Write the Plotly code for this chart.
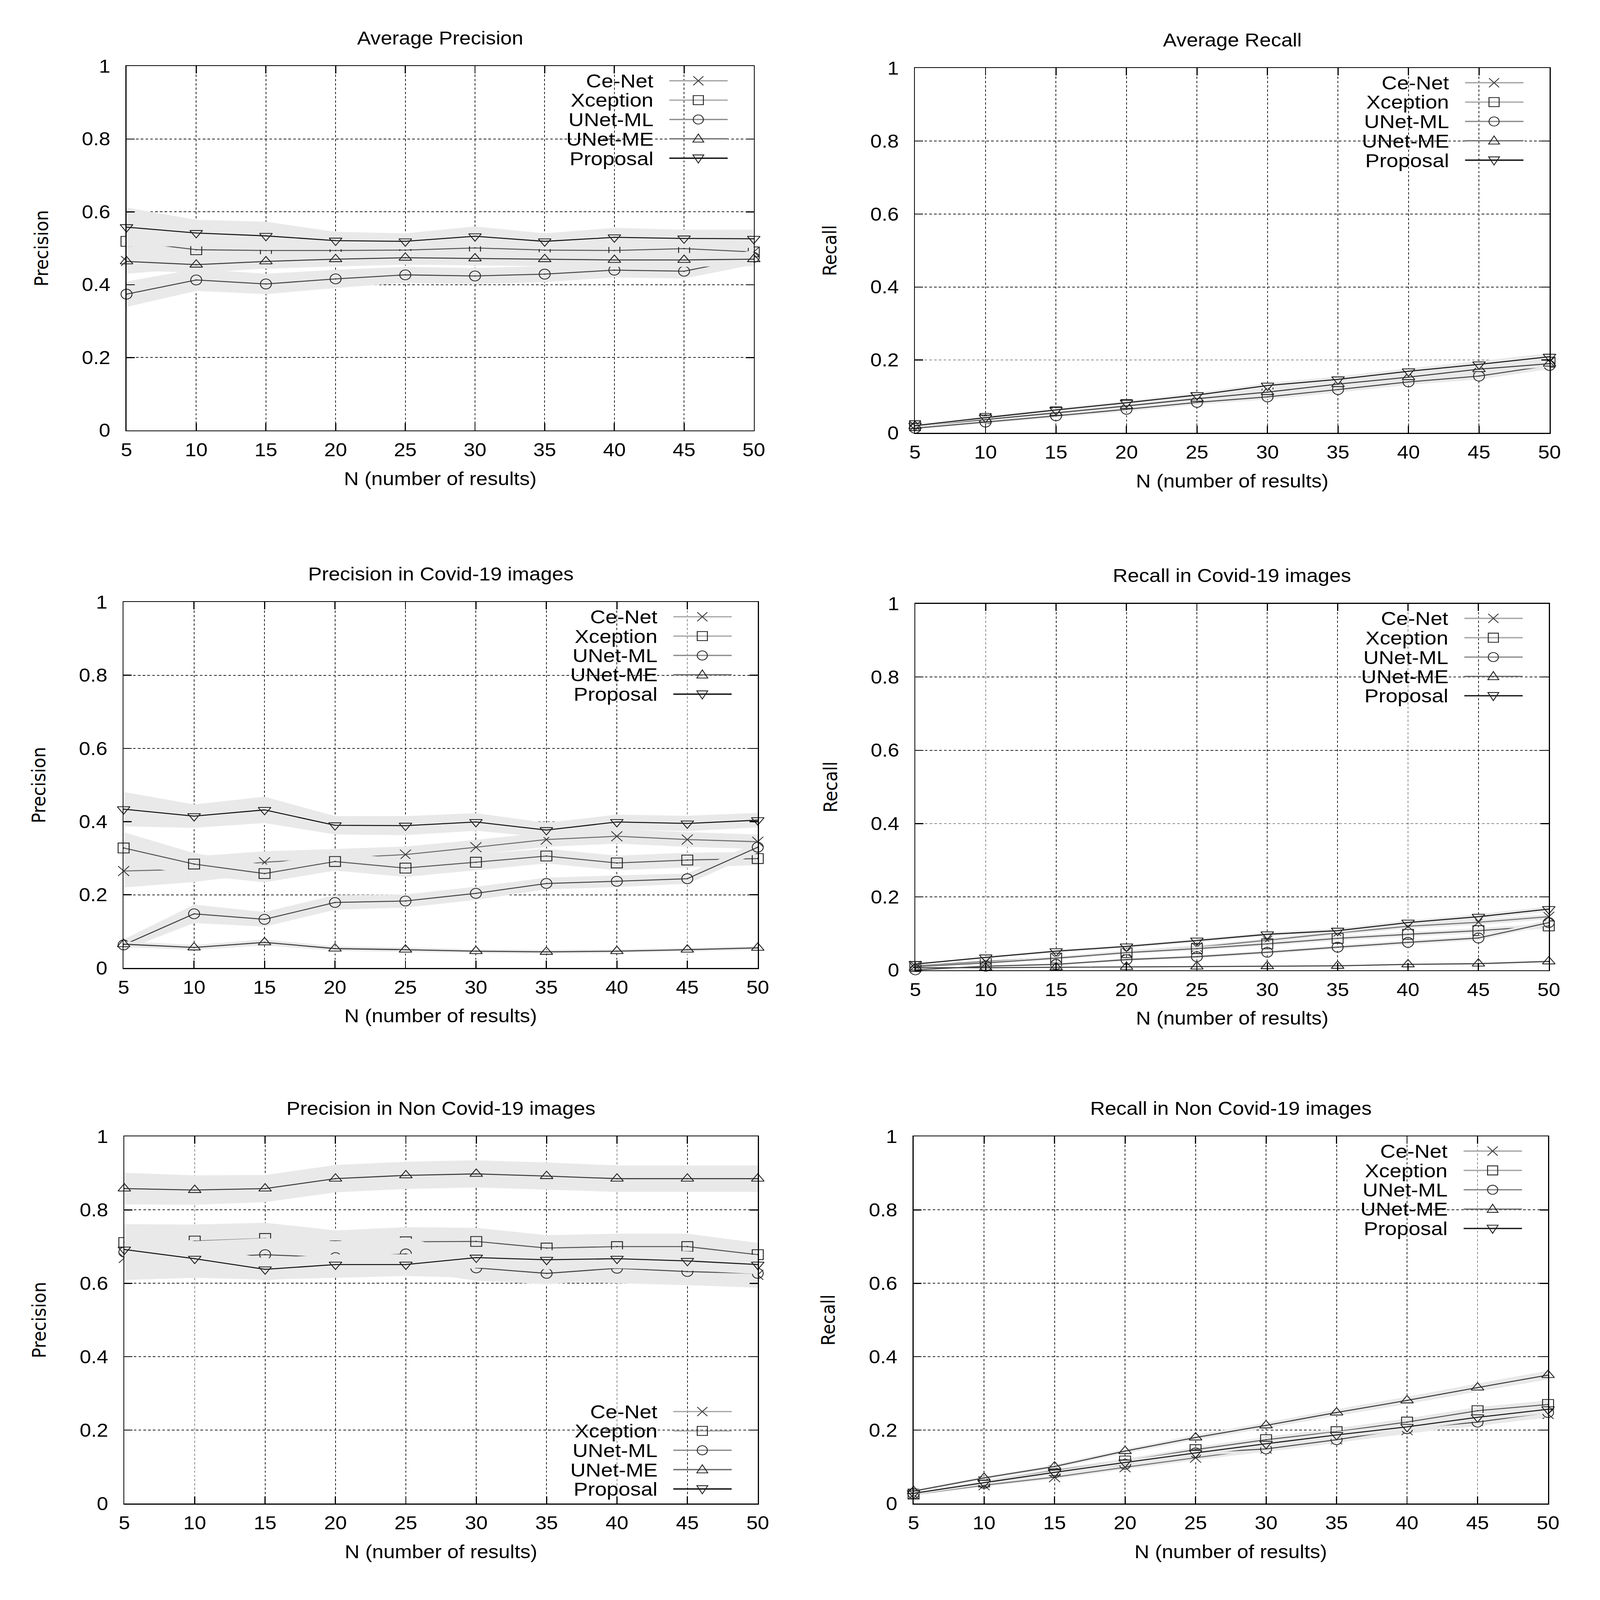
import plotly.graph_objects as go

W, H = 4368, 4856

# ---------------- data ----------------
N_RESULTS = [5, 10, 15, 20, 25, 30, 35, 40, 45, 50]
SERIES = ["Ce-Net", "Xception", "UNet-ML", "UNet-ME", "Proposal"]
Y_TICKS = [0, 0.2, 0.4, 0.6, 0.8, 1]
Y_TICK_TEXT = ["0", "0.2", "0.4", "0.6", "0.8", "1"]

# Average Precision
AP_CENET = [0.465, 0.475, 0.480, 0.485, 0.487, 0.490, 0.490, 0.490, 0.490, 0.490]
AP_XCEPTION = [0.519, 0.496, 0.494, 0.494, 0.495, 0.501, 0.495, 0.494, 0.499, 0.490]
AP_UNETML = [0.374, 0.413, 0.402, 0.416, 0.427, 0.424, 0.429, 0.440, 0.437, 0.475]
AP_UNETME = [0.464, 0.455, 0.464, 0.470, 0.474, 0.472, 0.470, 0.468, 0.468, 0.470]
AP_PROPOSAL = [0.558, 0.542, 0.534, 0.521, 0.519, 0.533, 0.519, 0.530, 0.527, 0.526]
AP_CENET_ERR = [0.035, 0.030, 0.028, 0.025, 0.025, 0.025, 0.025, 0.025, 0.025, 0.025]
AP_XCEPTION_ERR = [0.050, 0.040, 0.030, 0.025, 0.025, 0.025, 0.025, 0.025, 0.025, 0.025]
AP_UNETML_ERR = [0.035, 0.030, 0.028, 0.025, 0.022, 0.022, 0.022, 0.020, 0.020, 0.020]
AP_UNETME_ERR = [0.025, 0.022, 0.020, 0.020, 0.019, 0.019, 0.019, 0.019, 0.019, 0.019]
AP_PROPOSAL_ERR = [0.054, 0.036, 0.039, 0.024, 0.022, 0.027, 0.022, 0.026, 0.024, 0.025]

# Average Recall
AR_CENET = [0.019, 0.039, 0.058, 0.077, 0.096, 0.117, 0.136, 0.156, 0.176, 0.195]
AR_XCEPTION = [0.020, 0.040, 0.058, 0.078, 0.097, 0.116, 0.135, 0.153, 0.172, 0.194]
AR_UNETML = [0.013, 0.030, 0.047, 0.065, 0.084, 0.099, 0.119, 0.140, 0.156, 0.185]
AR_UNETME = [0.019, 0.037, 0.055, 0.074, 0.094, 0.112, 0.134, 0.153, 0.175, 0.190]
AR_PROPOSAL = [0.020, 0.042, 0.063, 0.083, 0.104, 0.130, 0.147, 0.169, 0.188, 0.209]
AR_CENET_ERR = [0.003, 0.004, 0.005, 0.005, 0.006, 0.007, 0.007, 0.008, 0.008, 0.009]
AR_XCEPTION_ERR = [0.003, 0.004, 0.005, 0.005, 0.006, 0.007, 0.007, 0.008, 0.008, 0.009]
AR_UNETML_ERR = [0.003, 0.004, 0.005, 0.006, 0.006, 0.007, 0.008, 0.008, 0.009, 0.010]
AR_UNETME_ERR = [0.003, 0.004, 0.004, 0.005, 0.006, 0.006, 0.007, 0.008, 0.008, 0.009]
AR_PROPOSAL_ERR = [0.003, 0.004, 0.005, 0.005, 0.006, 0.007, 0.008, 0.008, 0.009, 0.010]

# Precision in Covid-19 images
PC_CENET = [0.265, 0.270, 0.289, 0.300, 0.310, 0.330, 0.351, 0.360, 0.351, 0.345]
PC_XCEPTION = [0.328, 0.284, 0.258, 0.291, 0.273, 0.289, 0.306, 0.287, 0.295, 0.299]
PC_UNETML = [0.063, 0.148, 0.133, 0.179, 0.183, 0.204, 0.231, 0.237, 0.244, 0.330]
PC_UNETME = [0.065, 0.056, 0.070, 0.053, 0.050, 0.046, 0.044, 0.046, 0.050, 0.055]
PC_PROPOSAL = [0.434, 0.415, 0.432, 0.390, 0.389, 0.399, 0.377, 0.399, 0.395, 0.404]
PC_CENET_ERR = [0.045, 0.035, 0.030, 0.025, 0.022, 0.020, 0.020, 0.020, 0.020, 0.020]
PC_XCEPTION_ERR = [0.043, 0.030, 0.024, 0.025, 0.024, 0.022, 0.020, 0.020, 0.020, 0.018]
PC_UNETML_ERR = [0.015, 0.025, 0.020, 0.020, 0.018, 0.018, 0.016, 0.016, 0.014, 0.015]
PC_UNETME_ERR = [0.008, 0.007, 0.008, 0.006, 0.006, 0.005, 0.005, 0.005, 0.005, 0.005]
PC_PROPOSAL_ERR = [0.047, 0.032, 0.036, 0.025, 0.026, 0.024, 0.020, 0.020, 0.021, 0.020]

# Recall in Covid-19 images
RC_CENET = [0.012, 0.024, 0.034, 0.050, 0.063, 0.082, 0.102, 0.120, 0.131, 0.146]
RC_XCEPTION = [0.010, 0.020, 0.033, 0.048, 0.059, 0.072, 0.087, 0.098, 0.108, 0.121]
RC_UNETML = [0.001, 0.011, 0.016, 0.029, 0.037, 0.049, 0.063, 0.076, 0.088, 0.130]
RC_UNETME = [0.007, 0.007, 0.008, 0.009, 0.010, 0.011, 0.012, 0.016, 0.018, 0.024]
RC_PROPOSAL = [0.017, 0.035, 0.052, 0.065, 0.081, 0.098, 0.108, 0.130, 0.146, 0.167]
RC_CENET_ERR = [0.002, 0.003, 0.004, 0.004, 0.005, 0.005, 0.006, 0.006, 0.007, 0.007]
RC_XCEPTION_ERR = [0.002, 0.003, 0.004, 0.004, 0.005, 0.005, 0.006, 0.006, 0.007, 0.007]
RC_UNETML_ERR = [0.002, 0.003, 0.003, 0.004, 0.004, 0.005, 0.005, 0.006, 0.006, 0.007]
RC_UNETME_ERR = [0.001, 0.001, 0.002, 0.002, 0.002, 0.002, 0.002, 0.002, 0.003, 0.003]
RC_PROPOSAL_ERR = [0.002, 0.003, 0.004, 0.004, 0.005, 0.005, 0.006, 0.006, 0.007, 0.007]

# Precision in Non Covid-19 images
PN_CENET = [0.669, 0.665, 0.655, 0.655, 0.660, 0.655, 0.645, 0.640, 0.635, 0.623]
PN_XCEPTION = [0.711, 0.715, 0.722, 0.702, 0.713, 0.714, 0.696, 0.700, 0.700, 0.678]
PN_UNETML = [0.685, 0.670, 0.678, 0.670, 0.680, 0.642, 0.627, 0.641, 0.632, 0.627]
PN_UNETME = [0.858, 0.854, 0.858, 0.885, 0.894, 0.898, 0.892, 0.885, 0.885, 0.885]
PN_PROPOSAL = [0.692, 0.667, 0.638, 0.651, 0.651, 0.670, 0.664, 0.667, 0.661, 0.651]
PN_CENET_ERR = [0.060, 0.050, 0.045, 0.040, 0.040, 0.040, 0.040, 0.040, 0.040, 0.035]
PN_XCEPTION_ERR = [0.050, 0.045, 0.043, 0.042, 0.040, 0.037, 0.035, 0.035, 0.035, 0.032]
PN_UNETML_ERR = [0.060, 0.045, 0.045, 0.045, 0.045, 0.035, 0.030, 0.030, 0.030, 0.030]
PN_UNETME_ERR = [0.043, 0.040, 0.037, 0.037, 0.037, 0.037, 0.037, 0.036, 0.036, 0.036]
PN_PROPOSAL_ERR = [0.040, 0.035, 0.030, 0.028, 0.028, 0.028, 0.026, 0.026, 0.026, 0.026]

# Recall in Non Covid-19 images
RN_CENET = [0.025, 0.050, 0.072, 0.099, 0.125, 0.150, 0.175, 0.200, 0.225, 0.244]
RN_XCEPTION = [0.026, 0.059, 0.090, 0.116, 0.147, 0.174, 0.196, 0.222, 0.253, 0.270]
RN_UNETML = [0.027, 0.055, 0.084, 0.107, 0.138, 0.149, 0.174, 0.204, 0.222, 0.248]
RN_UNETME = [0.034, 0.070, 0.101, 0.143, 0.180, 0.213, 0.248, 0.281, 0.316, 0.350]
RN_PROPOSAL = [0.028, 0.057, 0.085, 0.112, 0.138, 0.163, 0.187, 0.209, 0.235, 0.257]
RN_CENET_ERR = [0.003, 0.004, 0.005, 0.006, 0.007, 0.008, 0.009, 0.010, 0.010, 0.011]
RN_XCEPTION_ERR = [0.003, 0.004, 0.005, 0.006, 0.007, 0.008, 0.009, 0.010, 0.010, 0.011]
RN_UNETML_ERR = [0.003, 0.004, 0.005, 0.006, 0.007, 0.008, 0.009, 0.010, 0.011, 0.012]
RN_UNETME_ERR = [0.003, 0.004, 0.005, 0.006, 0.007, 0.008, 0.009, 0.010, 0.011, 0.012]
RN_PROPOSAL_ERR = [0.003, 0.004, 0.005, 0.006, 0.007, 0.008, 0.009, 0.010, 0.010, 0.011]

# ---------------- styling ----------------
LINE_COLORS = ["#6a6a6a", "#555555", "#454545", "#383838", "#111111"]
LEGEND_COLORS = ["#a8a8a8", "#a8a8a8", "#8a8a8a", "#6e6e6e", "#111111"]
MARK_COLORS = ["#3a3a3a", "#222222", "#2a2a2a", "#222222", "#222222"]
SYMBOLS = ["x-thin-open", "square-open-dot", "circle-open-dot",
           "triangle-up-open-dot", "triangle-down-open-dot"]
BAND = "rgb(233,233,233)"
FONT = "Liberation Sans, Arial, sans-serif"
YFONT = "DejaVu Sans, Verdana, sans-serif"

PANELS = [
    dict(title="Average Precision", ytitle="Precision", box=(333, 2064, 172, 1292), legend="top",
         vals=[AP_CENET, AP_XCEPTION, AP_UNETML, AP_UNETME, AP_PROPOSAL],
         errs=[AP_CENET_ERR, AP_XCEPTION_ERR, AP_UNETML_ERR, AP_UNETME_ERR, AP_PROPOSAL_ERR]),
    dict(title="Average Recall", ytitle="Recall", box=(2509, 4260, 178, 1300), legend="top",
         vals=[AR_CENET, AR_XCEPTION, AR_UNETML, AR_UNETME, AR_PROPOSAL],
         errs=[AR_CENET_ERR, AR_XCEPTION_ERR, AR_UNETML_ERR, AR_UNETME_ERR, AR_PROPOSAL_ERR]),
    dict(title="Precision in Covid-19 images", ytitle="Precision", box=(325, 2075, 1820, 2945), legend="top",
         vals=[PC_CENET, PC_XCEPTION, PC_UNETML, PC_UNETME, PC_PROPOSAL],
         errs=[PC_CENET_ERR, PC_XCEPTION_ERR, PC_UNETML_ERR, PC_UNETME_ERR, PC_PROPOSAL_ERR]),
    dict(title="Recall in Covid-19 images", ytitle="Recall", box=(2510, 4258, 1825, 2952), legend="top",
         vals=[RC_CENET, RC_XCEPTION, RC_UNETML, RC_UNETME, RC_PROPOSAL],
         errs=[RC_CENET_ERR, RC_XCEPTION_ERR, RC_UNETML_ERR, RC_UNETME_ERR, RC_PROPOSAL_ERR]),
    dict(title="Precision in Non Covid-19 images", ytitle="Precision", box=(327, 2075, 3463, 4592), legend="bottom",
         vals=[PN_CENET, PN_XCEPTION, PN_UNETML, PN_UNETME, PN_PROPOSAL],
         errs=[PN_CENET_ERR, PN_XCEPTION_ERR, PN_UNETML_ERR, PN_UNETME_ERR, PN_PROPOSAL_ERR]),
    dict(title="Recall in Non Covid-19 images", ytitle="Recall", box=(2505, 4256, 3463, 4592), legend="top",
         vals=[RN_CENET, RN_XCEPTION, RN_UNETML, RN_UNETME, RN_PROPOSAL],
         errs=[RN_CENET_ERR, RN_XCEPTION_ERR, RN_UNETML_ERR, RN_UNETME_ERR, RN_PROPOSAL_ERR]),
]


def px(x):
    return x / W


def py(y):
    return 1 - y / H


fig = go.Figure()
layout = dict(width=W, height=H, margin=dict(l=0, r=0, t=0, b=0), autosize=False,
              paper_bgcolor="white", plot_bgcolor="white", showlegend=False)
annotations = []
shapes = []

for i, p in enumerate(PANELS, start=1):
    xa = "x" if i == 1 else f"x{i}"
    ya = "y" if i == 1 else f"y{i}"
    left, right, top, bottom = p["box"]
    axis_common = dict(showline=True, linecolor="black", linewidth=3, mirror="ticks",
                       ticks="inside", ticklen=22, tickwidth=3, tickcolor="black",
                       showgrid=True, gridcolor="#222222", gridwidth=2, griddash="7px,6px",
                       zeroline=False, tickfont=dict(family=FONT, size=56, color="black"))
    layout["xaxis" if i == 1 else f"xaxis{i}"] = dict(
        axis_common, domain=[px(left), px(right)], range=[5, 50], tickvals=N_RESULTS,
        anchor=ya, ticklabelstandoff=8)
    layout["yaxis" if i == 1 else f"yaxis{i}"] = dict(
        axis_common, domain=[py(bottom), py(top)], range=[0, 1], tickvals=Y_TICKS,
        ticktext=Y_TICK_TEXT, anchor=xa, ticklabelstandoff=30)

    for k, name in enumerate(SERIES):
        v = p["vals"][k]
        e = p["errs"][k]
        upper = [a + b for a, b in zip(v, e)]
        lower = [a - b for a, b in zip(v, e)]
        fig.add_trace(go.Scatter(
            x=N_RESULTS + N_RESULTS[::-1], y=upper + lower[::-1], fill="toself",
            fillcolor=BAND, line=dict(width=0), mode="lines", hoverinfo="skip",
            xaxis=xa, yaxis=ya, showlegend=False))
        fig.add_trace(go.Scatter(
            x=N_RESULTS, y=v, mode="lines+markers", name=name, xaxis=xa, yaxis=ya,
            line=dict(color=LINE_COLORS[k], width=3),
            marker=dict(symbol=SYMBOLS[k], size=30, color=MARK_COLORS[k],
                        line=dict(width=2.5, color=MARK_COLORS[k])),
            cliponaxis=False, showlegend=False))

    cx = (left + right) / 2
    annotations.append(dict(text=p["title"], x=px(cx), y=py(top - 86), xref="paper", yref="paper",
                            showarrow=False, xanchor="center", yanchor="middle",
                            font=dict(family=FONT, size=56, color="black")))
    annotations.append(dict(text="N (number of results)", x=px(cx), y=py(bottom + 148),
                            xref="paper", yref="paper", showarrow=False,
                            xanchor="center", yanchor="middle",
                            font=dict(family=FONT, size=56, color="black")))
    annotations.append(dict(text=p["ytitle"], x=px(left - 235), y=py((top + bottom) / 2),
                            xref="paper", yref="paper", showarrow=False, textangle=-90,
                            xanchor="center", yanchor="middle",
                            font=dict(family=YFONT, size=52, color="black")))

    # gnuplot-style key: text on the left, sample on the right
    step = 59.5
    if p["legend"] == "top":
        rows = [top + 45 + step * k for k in range(5)]
        bx0, bx1 = top + 22, top + 45 + step * 4 + 34
    else:
        rows = [bottom - 45 - step * (4 - k) for k in range(5)]
        bx0, bx1 = bottom - 45 - step * 4 - 34, bottom - 22
    shapes.append(dict(type="rect", xref="paper", yref="paper", layer="between",
                       x0=px(right - 545), x1=px(right - 48), y0=py(bx1), y1=py(bx0),
                       fillcolor="white", line=dict(width=0)))
    for k, name in enumerate(SERIES):
        ry = rows[k]
        annotations.append(dict(text=name, x=px(right - 275), y=py(ry), xref="paper", yref="paper",
                                showarrow=False, xanchor="right", yanchor="middle",
                                font=dict(family=FONT, size=58, color="black")))
        shapes.append(dict(type="line", xref="paper", yref="paper", layer="above",
                           x0=px(right - 233), x1=px(right - 72), y0=py(ry), y1=py(ry),
                           line=dict(color=LEGEND_COLORS[k], width=4)))
        mx = right - 153
        mc = MARK_COLORS[k]
        if k == 0:
            for sgn in (1, -1):
                shapes.append(dict(type="line", xref="paper", yref="paper", layer="above",
                                   x0=px(mx - 14), x1=px(mx + 14), y0=py(ry - 14 * sgn), y1=py(ry + 14 * sgn),
                                   line=dict(color=mc, width=2.5)))
        elif k == 1:
            shapes.append(dict(type="rect", xref="paper", yref="paper", layer="above",
                               x0=px(mx - 14), x1=px(mx + 14), y0=py(ry + 14), y1=py(ry - 14),
                               line=dict(color=mc, width=2.5)))
        elif k == 2:
            shapes.append(dict(type="circle", xref="paper", yref="paper", layer="above",
                               x0=px(mx - 14), x1=px(mx + 14), y0=py(ry + 14), y1=py(ry - 14),
                               line=dict(color=mc, width=2.5)))
        else:
            d = -1 if k == 3 else 1
            pts = [(mx, ry + 15 * d), (mx - 15, ry - 10 * d), (mx + 15, ry - 10 * d)]
            path = "M {} {} L {} {} L {} {} Z".format(
                px(pts[0][0]), py(pts[0][1]), px(pts[1][0]), py(pts[1][1]), px(pts[2][0]), py(pts[2][1]))
            shapes.append(dict(type="path", xref="paper", yref="paper", layer="above",
                               path=path, line=dict(color=mc, width=2.5)))

layout["annotations"] = annotations
layout["shapes"] = shapes
fig.update_layout(**layout)

# Stretch the fixed-size figure so that it fills the viewport the page is opened in
POST = """
document.body.style.margin = '0';
document.body.style.overflow = 'hidden';
var gd = document.getElementById('{plot_id}');
var sx = Math.min(1, window.innerWidth / %d), sy = Math.min(1, window.innerHeight / %d);
if (sx < 1 || sy < 1) {
  gd.style.transformOrigin = '0 0';
  gd.style.transform = 'scale(' + sx + ',' + sy + ')';
}
""" % (W, H)
fig.write_html("out.html", post_script=POST, config={"displayModeBar": False})
